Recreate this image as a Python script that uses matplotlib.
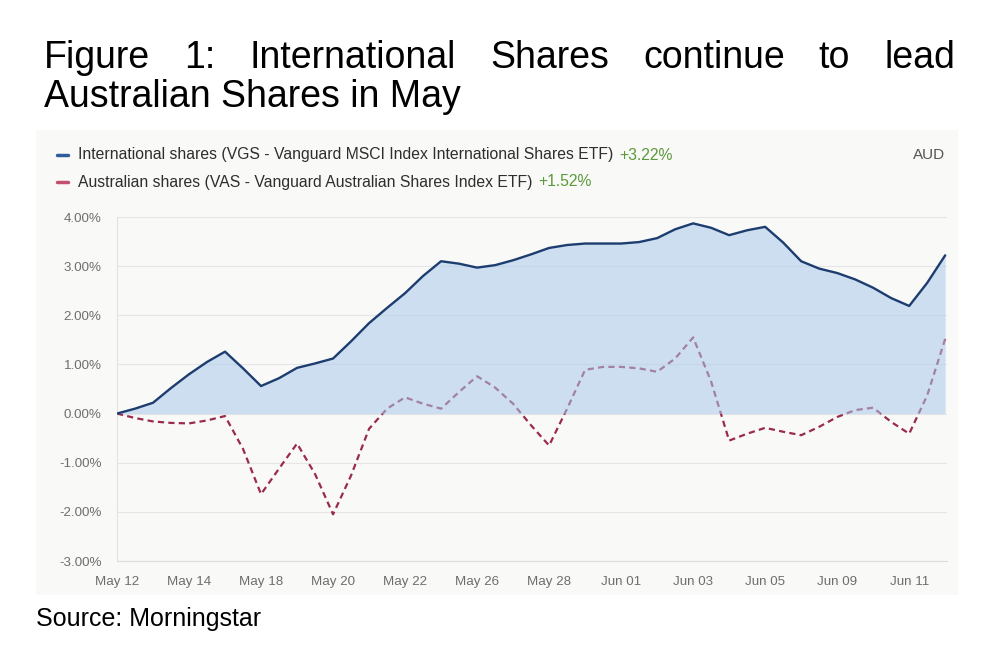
import numpy as np
import matplotlib
matplotlib.use("Agg")
import matplotlib.pyplot as plt
from matplotlib.patches import Rectangle

# readings every half tick step (one tick label per two trading days)
tick_labels = ["May 12", "May 14", "May 18", "May 20", "May 22", "May 26",
               "May 28", "Jun 01", "Jun 03", "Jun 05", "Jun 09", "Jun 11"]
intl = [0.00, 0.10, 0.22, 0.52, 0.80, 1.05, 1.26, 0.92, 0.56, 0.72,
        0.93, 1.02, 1.12, 1.47, 1.84, 2.15, 2.45, 2.80, 3.10, 3.05,
        2.97, 3.02, 3.12, 3.24, 3.37, 3.43, 3.46, 3.46, 3.46, 3.49,
        3.57, 3.75, 3.87, 3.78, 3.63, 3.73, 3.80, 3.48, 3.10, 2.95,
        2.86, 2.73, 2.56, 2.35, 2.19, 2.66, 3.22]
aus = [0.00, -0.09, -0.16, -0.19, -0.20, -0.14, -0.05, -0.72, -1.64, -1.12,
       -0.61, -1.23, -2.05, -1.26, -0.31, 0.10, 0.33, 0.20, 0.10, 0.44,
       0.76, 0.53, 0.20, -0.24, -0.65, 0.10, 0.89, 0.95, 0.95, 0.92,
       0.85, 1.12, 1.55, 0.65, -0.55, -0.41, -0.29, -0.37, -0.44, -0.27,
       -0.07, 0.07, 0.12, -0.17, -0.41, 0.37, 1.52]
yticks = [-3, -2, -1, 0, 1, 2, 3, 4]
intl_name = "International shares (VGS - Vanguard MSCI Index International Shares ETF)"
aus_name = "Australian shares (VAS - Vanguard Australian Shares Index ETF)"
intl_ret = "+3.22%"
aus_ret = "+1.52%"

x = np.arange(len(intl)) / 2.0

W, H = 1005, 661
fig = plt.figure(figsize=(W / 100, H / 100), dpi=100)
fig.patch.set_facecolor("white")

def fx(px):
    return px / W

def fy(py):
    return 1 - py / H

# light panel behind chart
fig.patches.append(Rectangle((fx(36), fy(595)), fx(958) - fx(36), fy(130) - fy(595),
                             transform=fig.transFigure, facecolor="#f9f9f8",
                             edgecolor="none", zorder=-10))

ax = fig.add_axes([fx(117), fy(561), fx(947) - fx(117), fy(217) - fy(561)])
ax.set_facecolor("none")

ax.plot(x, aus, color="#9a2a4e", lw=1.6, ls=(0, (2.8, 1.9)), zorder=2)
ax.fill_between(x, intl, 0, color="#a9c9ea", alpha=0.55, lw=0, zorder=3)
ax.plot(x, intl, color="#1d3d70", lw=1.7, zorder=4, solid_capstyle="round",
        solid_joinstyle="round")

ax.set_xlim(0, 23.05)
ax.set_ylim(-3, 4)
ax.set_yticks(yticks)
ax.set_yticklabels([f"{v:.2f}%" for v in yticks])
ax.set_xticks(np.arange(len(tick_labels)) * 2)
ax.set_xticklabels(tick_labels)
ax.grid(axis="y", color="#e6e6e6", lw=0.8)
ax.set_axisbelow(True)
for s in ["top", "right"]:
    ax.spines[s].set_visible(False)
ax.spines["left"].set_color("#e3e3e3")
ax.spines["bottom"].set_color("#dcdcdc")
ax.tick_params(length=0, labelsize=9.6, labelcolor="#6e6e6e")
ax.tick_params(axis="x", pad=11)
ax.tick_params(axis="y", pad=11)
for t in ax.get_xticklabels() + ax.get_yticklabels():
    t.set_family(["Liberation Sans", "DejaVu Sans"])

# legend header
leg_font = ["Liberation Sans", "DejaVu Sans"]
fig.lines.append(plt.Line2D([fx(57), fx(68)], [fy(155), fy(155)], transform=fig.transFigure,
                            color="#2f5d9b", lw=2.5, solid_capstyle="round"))
fig.lines.append(plt.Line2D([fx(57), fx(68)], [fy(182), fy(182)], transform=fig.transFigure,
                            color="#c0506e", lw=2.5, solid_capstyle="round"))
t1 = fig.text(fx(78), fy(155), intl_name, fontsize=11.3, color="#2e2e2e",
              family=leg_font, va="center")
t2 = fig.text(fx(78), fy(182), aus_name, fontsize=11.3, color="#2e2e2e",
              family=leg_font, va="center")
fig.canvas.draw()
r = fig.canvas.get_renderer()
e1 = t1.get_window_extent(r)
e2 = t2.get_window_extent(r)
fig.text(e1.x1 / W + fx(6), fy(155), intl_ret, fontsize=11.3, color="#5b9a3a",
         family=leg_font, va="center")
fig.text(e2.x1 / W + fx(6), fy(182), aus_ret, fontsize=11.3, color="#5b9a3a",
         family=leg_font, va="center")
fig.text(fx(945), fy(155), "AUD", fontsize=11, color="#555555",
         family=leg_font, va="center", ha="right")

# justified title, first line spread across the width
title_font = ["Liberation Sans", "DejaVu Sans"]
line1 = "Figure 1: International Shares continue to lead".split()
x0, x1 = 44, 955
words = [fig.text(0, fy(68), w, fontsize=27, family=title_font, va="baseline")
         for w in line1]
fig.canvas.draw()
widths = [w.get_window_extent(r).width for w in words]
gap = (x1 - x0 - sum(widths)) / (len(words) - 1)
pos = x0
for w, wd in zip(words, widths):
    w.set_x(fx(pos))
    pos += wd + gap
fig.text(fx(x0), fy(107), "Australian Shares in May", fontsize=27,
         family=title_font, va="baseline")

fig.text(fx(36), fy(626), "Source: Morningstar", fontsize=18, family=title_font,
         va="baseline")

fig.savefig("out.png", dpi=100)
